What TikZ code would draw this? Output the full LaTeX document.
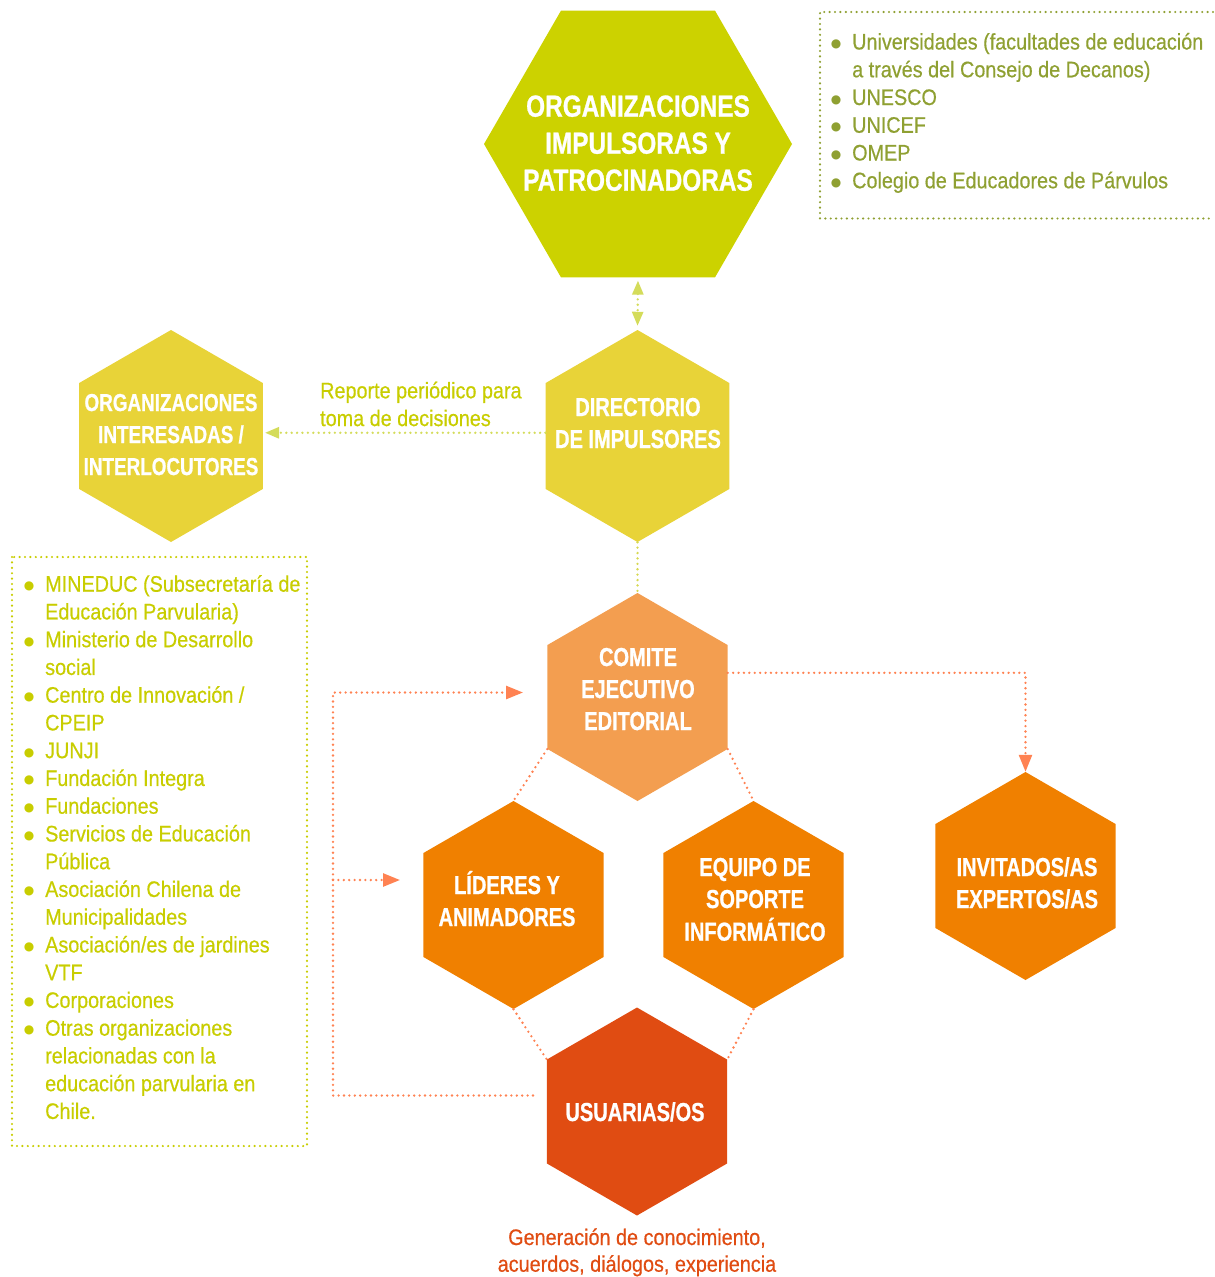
\documentclass[tikz,border=0pt]{standalone}
\usepackage{fontspec}
\setmainfont{Liberation Sans}[FakeStretch=0.88,UprightFeatures={FakeBold=0.5}]
\newfontfamily\hexfont{Liberation Sans}[FakeStretch=0.77,BoldFeatures={FakeBold=0.8}]
\newfontfamily\topfont{Liberation Sans}[FakeStretch=0.8,BoldFeatures={FakeBold=0.8}]
\newfontfamily\bulfont{DejaVu Sans}
\usetikzlibrary{shapes.geometric,arrows.meta}
\definecolor{cTop}{RGB}{204,210,0}
\definecolor{cDir}{RGB}{232,211,56}
\definecolor{cCom}{RGB}{243,158,80}
\definecolor{cOr}{RGB}{240,128,0}
\definecolor{cUsu}{RGB}{224,76,18}
\definecolor{cOlive}{RGB}{143,160,50}
\definecolor{cLime}{RGB}{200,205,0}
\definecolor{cLink}{RGB}{255,130,82}
\definecolor{cGLink}{RGB}{212,220,90}
\definecolor{cYLink}{RGB}{214,216,80}
\newcommand\bul{\makebox[7pt][c]{\raisebox{2pt}{\bulfont\fontsize{12}{12}\selectfont ●}}}
\tikzset{
 otip/.tip={Triangle[width=13pt,length=17pt]},
 gtip/.tip={Triangle[width=11pt,length=14pt]},
}
\begin{document}
\begin{tikzpicture}[x=1pt,y=-1pt,
 hexv/.style={regular polygon,regular polygon sides=6,shape border rotate=30,minimum size=208pt,inner sep=0pt},
 hexh/.style={regular polygon,regular polygon sides=6,minimum size=308pt,inner sep=0pt},
 hextxt/.style={text=white,anchor=base,inner sep=0pt,font=\hexfont\bfseries\fontsize{26}{32}\selectfont},
 listtxt/.style={anchor=base west,inner sep=0pt,font=\fontsize{22.5}{27.75}\selectfont},
 dots/.style={line width=2.6pt,dash pattern=on 0pt off 5.4pt,line cap=round},
 odots/.style={dots,draw=cLink},
]
\useasboundingbox (0,0) rectangle (1215,1277);
% hexagons
\node[hexh,fill=cTop] (top) at (638,144) {};
\node[hexv,fill=cDir,minimum size=212pt] (dir) at (637.5,436) {};
\node[hexv,fill=cDir,minimum size=212pt] (int) at (171,436) {};
\node[hexv,fill=cCom] (com) at (637.5,697) {};
\node[hexv,fill=cOr] (lid) at (513.5,905) {};
\node[hexv,fill=cOr] (eq) at (753.5,905) {};
\node[hexv,fill=cOr] (inv) at (1025.5,876) {};
\node[hexv,fill=cUsu] (usu) at (637,1111.5) {};
% hexagon texts
\node[hextxt,font=\topfont\bfseries\fontsize{30.5}{37}\selectfont] (topt) at (638,116.7)
 {\begin{tabular}[t]{@{}c@{}}ORGANIZACIONES\\IMPULSORAS Y\\PATROCINADORAS\end{tabular}};
\node[hextxt] (dirt) at (638,416) {\begin{tabular}[t]{@{}c@{}}DIRECTORIO\\DE IMPULSORES\end{tabular}};
\node[hextxt,font=\hexfont\bfseries\fontsize{24.5}{32}\selectfont] (intt) at (171,411) {\begin{tabular}[t]{@{}c@{}}ORGANIZACIONES\\INTERESADAS /\\INTERLOCUTORES\end{tabular}};
\node[hextxt] (comt) at (638,666) {\begin{tabular}[t]{@{}c@{}}COMITE\\EJECUTIVO\\EDITORIAL\end{tabular}};
\node[hextxt] (lidt) at (507,894) {\begin{tabular}[t]{@{}c@{}}LÍDERES Y\\ANIMADORES\end{tabular}};
\node[hextxt] (eqt) at (755,876) {\begin{tabular}[t]{@{}c@{}}EQUIPO DE\\SOPORTE\\INFORMÁTICO\end{tabular}};
\node[hextxt] (invt) at (1027,876) {\begin{tabular}[t]{@{}c@{}}INVITADOS/AS\\EXPERTOS/AS\end{tabular}};
\node[hextxt] (usut) at (635,1121) {USUARIAS/OS};
% connectors
\draw[dots,draw=cGLink,gtip-gtip,shorten <=3pt,shorten >=4pt] (top.south) -- (dir.north);
\draw[dots,draw=cGLink,-gtip,shorten >=2pt] (dir.178) -- (int.2);
\draw[dots,draw=cYLink] (dir.south) -- (com.north);
\draw[odots,-otip] (com.15) -| (inv.north);
\draw[odots] (com.210) -- (lid.90);
\draw[odots] (com.330) -- (eq.90);
\draw[odots] (lid.270) -- (usu.150);
\draw[odots] (eq.270) -- (usu.30);
\coordinate (fbs) at (533,1095.5);
\coordinate (fbc) at (333,880);
\coordinate (fbe1) at (523,692.5);
\coordinate (fbe2) at (400,880);
\draw[odots,-otip] (fbs) -| (fbc) |- (fbe1);
\draw[odots,-otip] (fbc) -- (fbe2);
% labels
\node[listtxt,text=cLime] (rep) at (320,398.3)
 {\begin{tabular}[t]{@{}l@{}}Reporte periódico para\\toma de decisiones\end{tabular}};
\node[anchor=base,inner sep=0pt,text=cUsu,font=\fontsize{22.5}{26.7}\selectfont] (gen) at (637,1245)
 {\begin{tabular}[t]{@{}c@{}}Generación de conocimiento,\\acuerdos, diálogos, experiencia\end{tabular}};
% top-right list
\draw[dots,draw=cOlive,line width=2.4pt] (1213,12) -- (820,12) -- (820,218.5) -- (1213,218.5);
\node[listtxt,text=cOlive] (trl) at (832.5,49.5)
 {\begin{tabular}[t]{@{}l@{\hspace{12.5pt}}l@{}}
 \bul & Universidades (facultades de educación\\
 & a través del Consejo de Decanos)\\
 \bul & UNESCO\\
 \bul & UNICEF\\
 \bul & OMEP\\
 \bul & Colegio de Educadores de Párvulos
 \end{tabular}};
% left list
\draw[dots,draw=cLime,line width=2.4pt] (12,557) rectangle (307,1146);
\node[listtxt,text=cLime] (lfl) at (25.5,591.7)
 {\begin{tabular}[t]{@{}l@{\hspace{12.5pt}}l@{}}
 \bul & MINEDUC (Subsecretaría de\\
 & Educación Parvularia)\\
 \bul & Ministerio de Desarrollo\\
 & social\\
 \bul & Centro de Innovación /\\
 & CPEIP\\
 \bul & JUNJI\\
 \bul & Fundación Integra\\
 \bul & Fundaciones\\
 \bul & Servicios de Educación\\
 & Pública\\
 \bul & Asociación Chilena de\\
 & Municipalidades\\
 \bul & Asociación/es de jardines\\
 & VTF\\
 \bul & Corporaciones\\
 \bul & Otras organizaciones\\
 & relacionadas con la\\
 & educación parvularia en\\
 & Chile.
 \end{tabular}};
\end{tikzpicture}
\end{document}
